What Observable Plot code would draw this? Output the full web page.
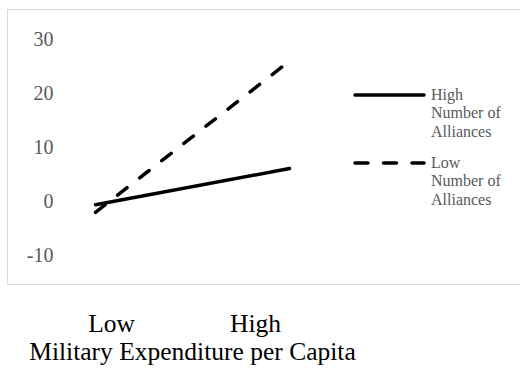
<!DOCTYPE html>
<html>
<head>
<meta charset="utf-8">
<script src="https://cdn.jsdelivr.net/npm/d3@7"></script>
<script src="https://cdn.jsdelivr.net/npm/@observablehq/plot@0.6"></script>
<style>
  html, body { margin: 0; padding: 0; background: #fff; }
  #wrap { position: relative; width: 520px; height: 374px; overflow: hidden; font-family: "Liberation Serif", "Times New Roman", serif; }
  #box { position: absolute; left: 7px; top: 9px; width: 530px; height: 274px; border: 1px solid #d9d9d9; }
  #chart { position: absolute; left: 0; top: 0; }
  .leg { position: absolute; left: 431px; font-size: 16px; line-height: 18.3px; color: #595959; }
  #sw { position: absolute; left: 0; top: 0; }
</style>
</head>
<body>
<div id="wrap">
  <div id="box"></div>
  <div id="chart"></div>
</div>
<script>
// Data
const levels = ["Low", "High"];                 // Military expenditure per capita
const seriesNames = ["High Number of Alliances", "Low Number of Alliances"];
const highAlliances = [-0.6, 6.1];
const lowAlliances = [-2.0, 26.0];
const yTicks = [-10, 0, 10, 20, 30];
const xTitle = "Military Expenditure per Capita";

const rows = [
  ...levels.map((l, i) => ({level: l, value: highAlliances[i], series: seriesNames[0]})),
  ...levels.map((l, i) => ({level: l, value: lowAlliances[i], series: seriesNames[1]}))
];

const font = "Liberation Serif";
const chart = Plot.plot({
  width: 520,
  height: 374,
  marginTop: 39,
  marginBottom: 119,
  marginLeft: 95,
  marginRight: 231,
  style: {fontFamily: font, background: "transparent", overflow: "visible"},
  x: {type: "point", domain: levels, padding: 0},
  y: {domain: [-10, 30]},
  marks: [
    Plot.axisY(yTicks, {tickSize: 0, tickPadding: 42, fontSize: 20, fill: "#595959", label: null, tickFormat: d => String(d)}),
    Plot.axisX(["Low"], {tickSize: 0, tickPadding: 58, dx: 16, fontSize: 25.5, fill: "#000", label: null}),
    Plot.axisX(["High"], {tickSize: 0, tickPadding: 58, dx: -34, fontSize: 25.5, fill: "#000", label: null}),
    Plot.text([xTitle], {frameAnchor: "bottom", lineAnchor: "middle", dy: 96.5, fontSize: 25.5, fill: "#000", text: d => d}),
    Plot.line(rows.filter(d => d.series === seriesNames[0]), {x: "level", y: "value", stroke: "#000", strokeWidth: 3.5, strokeLinecap: "round"}),
    Plot.line(rows.filter(d => d.series === seriesNames[1]), {x: "level", y: "value", stroke: "#000", strokeWidth: 3.5, strokeLinecap: "round", strokeDasharray: "12,16"})
  ]
});
document.getElementById("chart").appendChild(chart);

// Legend
const wrap = document.getElementById("wrap");
const ns = "http://www.w3.org/2000/svg";
const sw = document.createElementNS(ns, "svg");
sw.setAttribute("id", "sw");
sw.setAttribute("width", 520);
sw.setAttribute("height", 374);
const legendY = [95, 163];
const dashes = [null, "13,15.5"];
seriesNames.forEach((name, i) => {
  const ln = document.createElementNS(ns, "line");
  ln.setAttribute("x1", 355); ln.setAttribute("x2", 424);
  ln.setAttribute("y1", legendY[i]); ln.setAttribute("y2", legendY[i]);
  ln.setAttribute("stroke", "#000");
  ln.setAttribute("stroke-width", 3.5);
  ln.setAttribute("stroke-linecap", "round");
  if (dashes[i]) ln.setAttribute("stroke-dasharray", dashes[i]);
  sw.appendChild(ln);
  const div = document.createElement("div");
  div.className = "leg";
  div.style.top = (legendY[i] - 9) + "px";
  const words = name.split(" ");
  div.innerHTML = words[0] + "<br>" + words.slice(1, 3).join(" ") + "<br>" + words[3];
  wrap.appendChild(div);
});
wrap.appendChild(sw);
</script>
</body>
</html>
